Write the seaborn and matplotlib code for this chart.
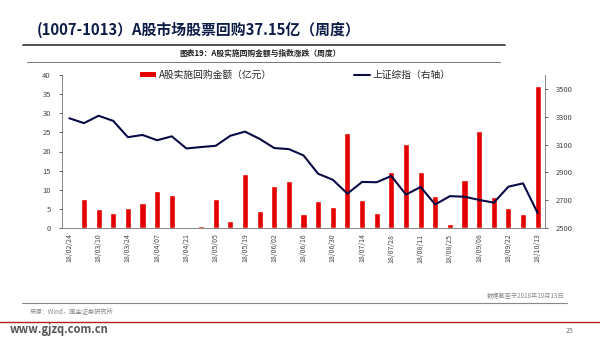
import numpy as np
import pandas as pd
import matplotlib
matplotlib.use("Agg")
import matplotlib.pyplot as plt
import seaborn as sns
from matplotlib.patches import Patch
from matplotlib.lines import Line2D

# Weekly data: buyback amount (100m CNY) and SSE Composite close
weeks = ["18/02/24", "18/03/03", "18/03/10", "18/03/17", "18/03/24", "18/03/31",
         "18/04/07", "18/04/14", "18/04/21", "18/04/28", "18/05/05", "18/05/12",
         "18/05/19", "18/05/26", "18/06/02", "18/06/09", "18/06/16", "18/06/23",
         "18/06/30", "18/07/07", "18/07/14", "18/07/21", "18/07/28", "18/08/04",
         "18/08/11", "18/08/18", "18/08/25", "18/09/01", "18/09/08", "18/09/15",
         "18/09/22", "18/09/29", "18/10/13"]
buyback = [0.3, 7.6, 5.0, 3.8, 5.3, 6.6, 9.7, 8.5, 0.1, 0.6, 7.6, 1.8,
           14.0, 4.5, 10.9, 12.4, 3.6, 7.1, 5.5, 24.8, 7.2, 3.8, 14.6, 21.9,
           14.7, 8.3, 0.95, 12.5, 25.4, 8.1, 5.3, 3.7, 37.15]
sse = [3289, 3254, 3307, 3270, 3153, 3169, 3131, 3159, 3072, 3082, 3091, 3163,
       3193, 3141, 3075, 3067, 3022, 2890, 2847, 2747, 2831, 2829, 2874, 2740,
       2795, 2669, 2729, 2725, 2702, 2682, 2797, 2821, 2607]

title = "(1007-1013）A股市场股票回购37.15亿（周度）"
subtitle = "图表19：A股实施回购金额与指数涨跌（周度）"
bar_label = "A股实施回购金额（亿元）"
line_label = "上证综指（右轴）"
source = "来源：Wind，国金证券研究所"
note = "数据截至于2018年10月13日"

sns.set_theme(style="white")
plt.rcParams["font.family"] = ["Noto Sans CJK SC", "DejaVu Sans"]

df = pd.DataFrame({"week": weeks, "buyback": buyback, "sse": sse,
                   "pos": np.arange(len(weeks))})

fig = plt.figure(figsize=(6.0, 3.38), dpi=100)
W, H = 600, 338

def fx(px):
    return px / W

def fy(py):
    return 1 - py / H

# Header
fig.text(fx(37), fy(30), title, fontsize=10.7, fontweight="bold",
         color="#0E1C48", va="center", ha="left")
fig.add_artist(Line2D([fx(23), fx(505)], [fy(45), fy(45)], color="#444444", lw=1.3))
fig.text(fx(260), fy(53), subtitle, fontsize=5.6, fontweight="bold",
         color="#222222", va="center", ha="center")
fig.add_artist(Line2D([fx(27), fx(500)], [fy(61.5), fy(61.5)], color="#777777", lw=0.7))

# Chart area
ax = fig.add_axes([fx(62), fy(228), fx(545 - 62), (228 - 75) / H])
sns.barplot(data=df, x="week", y="buyback", color="#E60000", width=0.42,
            saturation=1, ax=ax)
ax.set_ylim(0, 40)
ax.set_yticks(range(0, 41, 5))
ax.set_xlim(-0.5, len(weeks) - 0.5)
ax.set_xticks(range(0, len(weeks), 2))
ax.set_xticklabels([weeks[i] for i in range(0, len(weeks), 2)], rotation=90,
                   fontsize=5, color="#444444")
ax.tick_params(axis="y", labelsize=5.5, colors="#444444", length=2, width=0.6,
               direction="out", pad=6)
ax.tick_params(axis="x", length=2, width=0.6, direction="out", pad=2)
ax.set_xlabel("")
ax.set_ylabel("")

ax2 = ax.twinx()
sns.lineplot(data=df, x="pos", y="sse", color="#0A0A46", lw=1.5, ax=ax2)
ax2.set_ylim(2500, 3600)
ax2.set_yticks(range(2500, 3501, 200))
ax2.tick_params(axis="y", labelsize=5.5, colors="#444444", length=2, width=0.6,
                direction="out", pad=6)
ax2.set_ylabel("")
ax2.set_xlabel("")
ax2.set_xlim(-0.5, len(weeks) - 0.5)

for a in (ax, ax2):
    a.spines["top"].set_visible(False)
    for s in ("left", "right", "bottom"):
        a.spines[s].set_color("#888888")
        a.spines[s].set_linewidth(0.7)

handles = [Patch(facecolor="#E60000", edgecolor="none", label=bar_label),
           Line2D([0], [0], color="#0A0A46", lw=1.5, label=line_label)]
fig.legend(handles=handles, loc="upper left", bbox_to_anchor=(fx(140), fy(70)),
           ncol=2, frameon=False, fontsize=7, handlelength=1.6, handleheight=0.5,
           handletextpad=0.3, columnspacing=8.5, borderaxespad=0, borderpad=0)

# Footer
fig.add_artist(Line2D([fx(22), fx(567)], [fy(303), fy(303)], color="#888888", lw=0.8))
fig.text(fx(564), fy(296), note, fontsize=4.5, style="italic", color="#888888",
         ha="right", va="center")
fig.text(fx(30), fy(311), source, fontsize=4.5, style="italic", color="#888888",
         ha="left", va="center")
fig.add_artist(Line2D([0, 1], [fy(321.5), fy(321.5)], color="#B22222", lw=1.0))
fig.text(fx(10), fy(330), "www.gjzq.com.cn", fontsize=8, fontweight="bold",
         color="#555555", ha="left", va="center")
fig.text(fx(570), fy(331), "25", fontsize=5, color="#777777", ha="center", va="center")

fig.savefig("out.png", dpi=100, facecolor="white")
